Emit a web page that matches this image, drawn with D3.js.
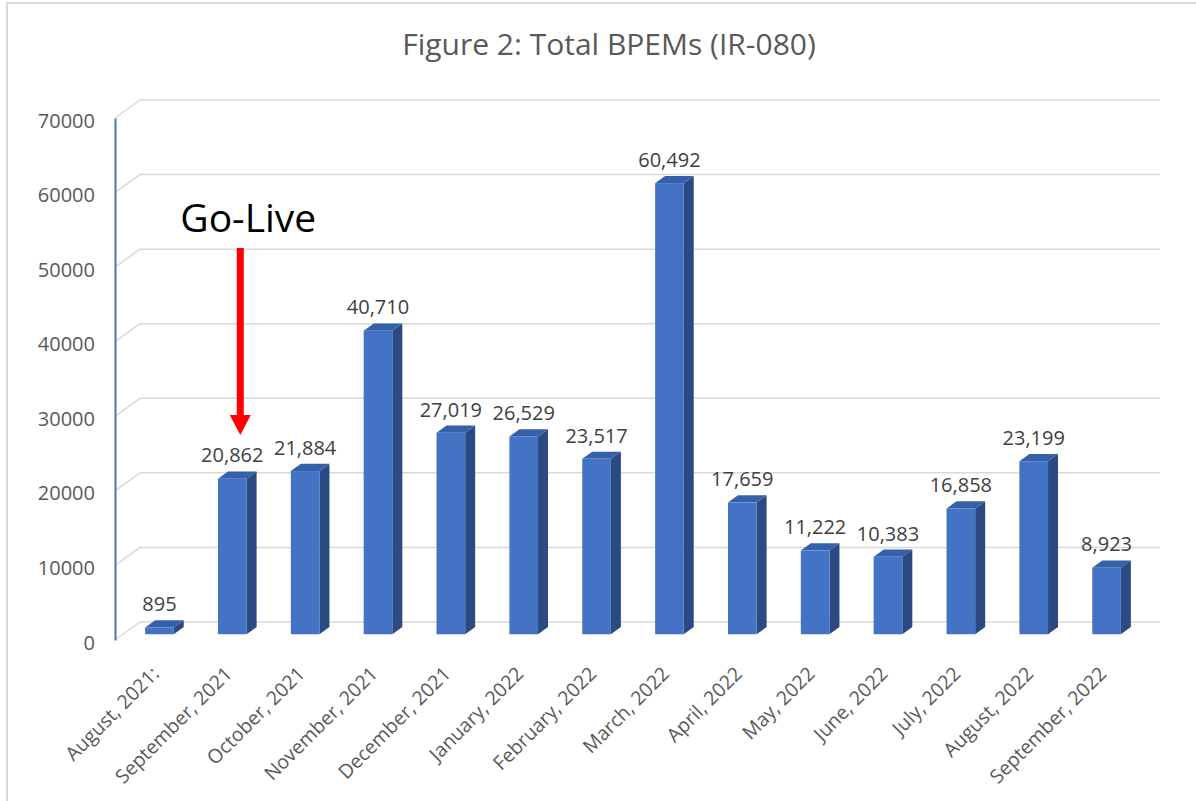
<!DOCTYPE html>
<html>
<head>
<meta charset="utf-8">
<script src="https://cdn.jsdelivr.net/npm/d3@7"></script>
<style>
  html, body { margin: 0; padding: 0; background: #fff; overflow: hidden; }
  svg { display: block; font-family: "Open Sans", "Noto Sans", sans-serif; }
</style>
</head>
<body>
<svg id="chart" width="1196" height="801"></svg>
<script>
// ---- data ----
const categories = [
  "August, 2021:", "September, 2021", "October, 2021", "November, 2021",
  "December, 2021", "January, 2022", "February, 2022", "March, 2022",
  "April, 2022", "May, 2022", "June, 2022", "July, 2022",
  "August, 2022", "September, 2022"
];
const values = [895, 20862, 21884, 40710, 27019, 26529, 23517, 60492,
                17659, 11222, 10383, 16858, 23199, 8923];
const yTicks = [0, 10000, 20000, 30000, 40000, 50000, 60000, 70000];
const title = "Figure 2: Total BPEMs (IR-080)";
const annotation = { category: "September, 2021", text: "Go-Live" };

// ---- layout ----
const svg = d3.select("#chart");
const W = 1196, H = 801;
const floorLeft = 115, floorRight = 1135;
const depthDX = 25, depthDY = -18;     // full depth offset (front -> back wall)
const barZ0 = 0.32, barZ1 = 0.72;      // bar depth span (fraction of depth)

const y = d3.scaleLinear().domain([0, 70000]).range([640, 118]);
const x = d3.scaleBand().domain(categories).range([floorLeft, floorRight])
  .paddingInner(0.607).paddingOuter(0.3035);

const gridColor = "#d9d9d9";
const frontColor = "#4472c4", sideColor = "#2c4a82", topColor = "#3560aa";

// chart frame
svg.append("rect").attr("x", 7).attr("y", 3).attr("width", W + 20).attr("height", H + 20)
  .attr("fill", "none").attr("stroke", "#d9d9d9").attr("stroke-width", 2);

// title
svg.append("text").attr("x", 609).attr("y", 55).attr("text-anchor", "middle")
  .attr("font-size", 30).attr("fill", "#595959").text(title);

// gridlines (back wall + side wall diagonals)
const grid = svg.append("g");
yTicks.forEach(t => {
  const yf = y(t), yb = y(t) + depthDY;
  grid.append("line").attr("x1", floorLeft).attr("y1", yf)
    .attr("x2", floorLeft + depthDX).attr("y2", yb)
    .attr("stroke", gridColor).attr("stroke-width", 1.5);
  grid.append("line").attr("x1", floorLeft + depthDX).attr("y1", yb)
    .attr("x2", floorRight + depthDX).attr("y2", yb)
    .attr("stroke", gridColor).attr("stroke-width", 1.5);
});

// y axis (front edge)
const yAxis = d3.axisLeft(y).tickValues(yTicks).tickSize(0).tickPadding(20)
  .tickFormat(d => String(d));
const yg = svg.append("g").attr("transform", `translate(${floorLeft},0)`).call(yAxis);
yg.select(".domain").attr("stroke", "#4472c4").attr("stroke-width", 2);
yg.selectAll("text").attr("font-size", 20).attr("fill", "#595959")
  .attr("dy", "0.45em")
  .attr("font-family", "'Open Sans', sans-serif");

// bars (3D)
const dx = depthDX * (barZ1 - barZ0), dy = depthDY * (barZ1 - barZ0);
const offX = depthDX * barZ0, offY = depthDY * barZ0;
const bw = x.bandwidth();
const bars = svg.append("g");
categories.forEach((c, i) => {
  const v = values[i];
  const L = x(c) + offX;
  const top = y(v) + offY, bot = y(0) + offY;
  const g = bars.append("g");
  g.append("polygon")
    .attr("points", [[L + bw, top], [L + bw + dx, top + dy], [L + bw + dx, bot + dy], [L + bw, bot]].join(" "))
    .attr("fill", sideColor);
  g.append("polygon")
    .attr("points", [[L, top], [L + bw, top], [L + bw + dx, top + dy], [L + dx, top + dy]].join(" "))
    .attr("fill", topColor);
  g.append("rect").attr("x", L).attr("y", top).attr("width", bw).attr("height", bot - top)
    .attr("fill", frontColor);
  g.append("text").attr("x", L + bw / 2).attr("y", top + dy - 9)
    .attr("text-anchor", "middle").attr("font-size", 20).attr("fill", "#404040")
    .text(d3.format(",")(v));
});

// x axis labels (rotated)
const xl = svg.append("g");
categories.forEach(c => {
  const cx = x(c) + offX + bw / 2 + 1, cy = 675;
  xl.append("text").attr("transform", `translate(${cx},${cy}) rotate(-45)`)
    .attr("text-anchor", "end").attr("font-size", 19.5).attr("fill", "#595959")
    .text(c);
});

// Go-Live annotation
const ax = x(annotation.category) + offX + bw / 2 + 8;
svg.append("text").attr("x", ax + 8).attr("y", 232).attr("text-anchor", "middle")
  .attr("font-size", 39).attr("fill", "#000").text(annotation.text);
svg.append("line").attr("x1", ax).attr("y1", 248).attr("x2", ax).attr("y2", 418)
  .attr("stroke", "#ff0000").attr("stroke-width", 7);
svg.append("polygon")
  .attr("points", [[ax - 10.5, 415], [ax + 10.5, 415], [ax, 435]].join(" "))
  .attr("fill", "#ff0000");
</script>
</body>
</html>
